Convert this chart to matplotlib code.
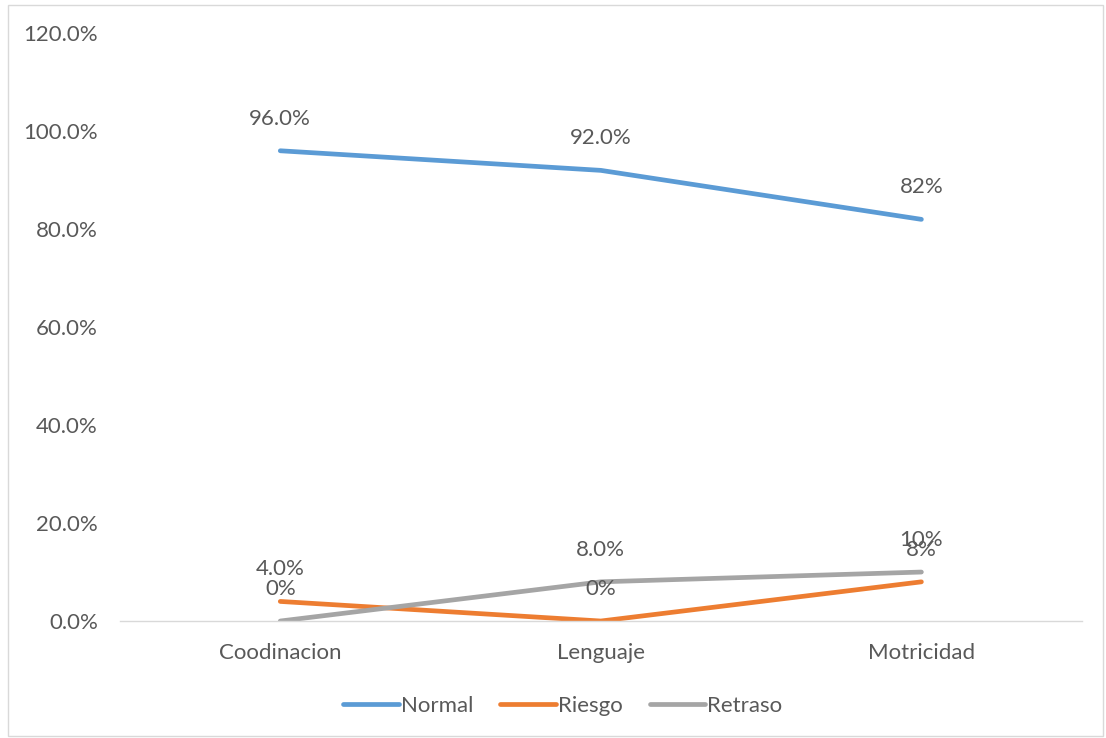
import matplotlib.pyplot as plt
from matplotlib.patches import Rectangle
import numpy as np

categories = ['Coodinacion', 'Lenguaje', 'Motricidad']
normal = [96.0, 92.0, 82.0]
riesgo = [4.0, 0.0, 8.0]
retraso = [0.0, 8.0, 10.0]
normal_labels = ['96.0%', '92.0%', '82%']
riesgo_labels = ['4.0%', '0%', '8%']
retraso_labels = ['0%', '8.0%', '10%']
yticks = [0, 20, 40, 60, 80, 100, 120]

plt.rcParams['font.family'] = ['Lato', 'DejaVu Sans']
txt = '#595959'
fs = 16

fig = plt.figure(figsize=(11.06, 7.38), dpi=100)
ax = fig.add_axes([0.1085, 0.1585, 0.8695, 0.7965])

x = np.arange(len(categories))
series = [
    ('Normal', normal, normal_labels, '#5B9BD5'),
    ('Riesgo', riesgo, riesgo_labels, '#ED7D31'),
    ('Retraso', retraso, retraso_labels, '#A5A5A5'),
]
for name, vals, labs, col in series:
    ax.plot(x, vals, color=col, linewidth=3.4, solid_capstyle='round', label=name)
    for xi, v, lab in zip(x, vals, labs):
        ax.annotate(lab, (xi, v), xytext=(0, 23), textcoords='offset points',
                    ha='center', va='center', fontsize=fs, color=txt)

ax.set_xlim(-0.5, 2.5)
ax.set_ylim(0, 120)
ax.set_yticks(yticks)
ax.set_yticklabels(['%.1f%%' % t for t in yticks])
ax.set_xticks(x)
ax.set_xticklabels(categories)
ax.tick_params(axis='both', length=0, labelsize=fs, labelcolor=txt)
ax.tick_params(axis='x', pad=16)
ax.tick_params(axis='y', pad=16)
for s in ['top', 'right', 'left']:
    ax.spines[s].set_visible(False)
ax.spines['bottom'].set_color('#D9D9D9')
ax.spines['bottom'].set_linewidth(1)

leg = fig.legend(loc='center', bbox_to_anchor=(0.509, 0.044), ncol=3, frameon=False,
                 fontsize=fs, handlelength=2.5, handletextpad=0.1, columnspacing=1.2)
for t in leg.get_texts():
    t.set_color(txt)

fig.patches.append(Rectangle((8 / 1106, 0.003), 1 - 8 / 1106 - 0.003, 1 - 5 / 738 - 0.003,
                             transform=fig.transFigure, fill=False,
                             edgecolor='#D9D9D9', linewidth=1))

fig.savefig('out.png', dpi=100)
